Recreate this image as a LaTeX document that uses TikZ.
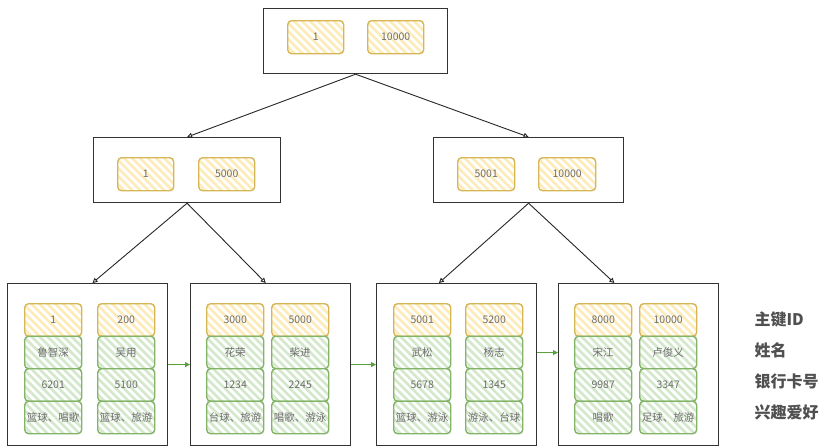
\documentclass[tikz,border=0pt]{standalone}
\usepackage{fontspec}
\setmainfont{Noto Sans CJK SC}
\usetikzlibrary{arrows.meta,calc}
\definecolor{keyline}{RGB}{214,182,86}
\definecolor{keyhatch}{RGB}{253,236,186}
\definecolor{rowline}{RGB}{130,179,102}
\definecolor{rowhatch}{RGB}{212,232,204}
\definecolor{cellgray}{RGB}{110,110,110}
\definecolor{labelgray}{RGB}{80,80,80}
\definecolor{linkgreen}{RGB}{90,160,60}

\tikzset{
  hatch/.style={path picture={
    \foreach \k in {-80,-72,...,48}
      \draw[#1,line width=2.6pt] ([xshift=\k pt,yshift=2pt]path picture bounding box.north) -- ++(50pt,-50pt);}},
  page/.style={draw=black!80, line width=1.2pt, fill=white, anchor=north west, inner sep=0pt},
  cell/.style={anchor=north west, rounded corners=4pt, line width=1.4pt, minimum width=57pt,
    minimum height=32.5pt, inner sep=0pt, font=\fontsize{10.5}{12}\selectfont, text=cellgray},
  keycell/.style={cell, draw=keyline, fill=white, hatch=keyhatch},
  rowcell/.style={cell, draw=rowline, fill=white, hatch=rowhatch},
  tree/.style={draw=black!85, line width=0.9pt, -{Triangle[open,length=5pt,width=5pt]}},
  link/.style={draw=linkgreen, line width=1pt, -{Triangle[length=5pt,width=5pt]}},
  field/.style={anchor=west, font=\fontsize{16}{18}\selectfont\bfseries, text=labelgray}
}

\begin{document}
\begin{tikzpicture}[x=1pt,y=-1pt]
  \useasboundingbox (0,0) rectangle (831,447);

  % upper levels
  \node[page, minimum width=184pt, minimum height=65pt] (root) at (263,8) {};
  \node[keycell, minimum width=56pt, minimum height=33pt] (root-k1) at (287,20) {1};
  \node[keycell, minimum width=56pt, minimum height=33pt] (root-k2) at (367,20) {10000};

  \node[page, minimum width=187pt, minimum height=65pt] (ml) at (93,137) {};
  \node[keycell, minimum width=56pt, minimum height=33pt] (ml-k1) at (117,157) {1};
  \node[keycell, minimum width=56pt, minimum height=33pt] (ml-k2) at (198,157) {5000};

  \node[page, minimum width=190pt, minimum height=65pt] (mr) at (433,137) {};
  \node[keycell, minimum width=57pt, minimum height=33pt] (mr-k1) at (457,157) {5001};
  \node[keycell, minimum width=57pt, minimum height=33pt] (mr-k2) at (538,157) {10000};

  % leaves
  \foreach \n/\bx/\xa/\xb/\ka/\kb/\ma/\mb/\pa/\pb/\ha/\hb in {
    l1/7/24/97/1/200/鲁智深/吴用/6201/5100/篮球、唱歌/篮球、旅游,
    l2/190/206/271/3000/5000/花荣/柴进/1234/2245/台球、旅游/唱歌、游泳,
    l3/376/393/465/5001/5200/武松/杨志/5678/1345/篮球、游泳/游泳、台球,
    l4/558/574/639/8000/10000/宋江/卢俊义/9987/3347/唱歌/足球、旅游} {
    \node[page, minimum width=160pt, minimum height=162pt] (\n) at (\bx,283) {};
    \node[keycell] (\n-k1) at (\xa,303) {\ka};
    \node[keycell] (\n-k2) at (\xb,303) {\kb};
    \node[rowcell] (\n-m1) at (\xa,335.5) {\ma};
    \node[rowcell] (\n-m2) at (\xb,335.5) {\mb};
    \node[rowcell] (\n-p1) at (\xa,368) {\pa};
    \node[rowcell] (\n-p2) at (\xb,368) {\pb};
    \node[rowcell] (\n-h1) at (\xa,400.5) {\ha};
    \node[rowcell] (\n-h2) at (\xb,400.5) {\hb};
  }

  % pointers
  \draw[tree] (root.south) -- (ml.north);
  \draw[tree] (root.south) -- (mr.north);
  \draw[tree] (ml.south) -- ($(l1.north west)!0.53!(l1.north east)$);
  \draw[tree] (ml.south) -- ($(l2.north west)!0.47!(l2.north east)$);
  \draw[tree] (mr.south) -- ($(l3.north west)!0.39!(l3.north east)$);
  \draw[tree] (mr.south) -- ($(l4.north west)!0.35!(l4.north east)$);

  \draw[link] (l1.east) -- (l2.west);
  \draw[link] (l2.east) -- (l3.west);
  \draw[link] ([yshift=12pt]l3.east) -- ([yshift=12pt]l4.west);

  % legend
  \node[field] (f1) at (751,319) {主键ID};
  \node[field] (f2) at (751,350) {姓名};
  \node[field] (f3) at (751,381) {银行卡号};
  \node[field] (f4) at (751,412) {兴趣爱好};
\end{tikzpicture}
\end{document}
